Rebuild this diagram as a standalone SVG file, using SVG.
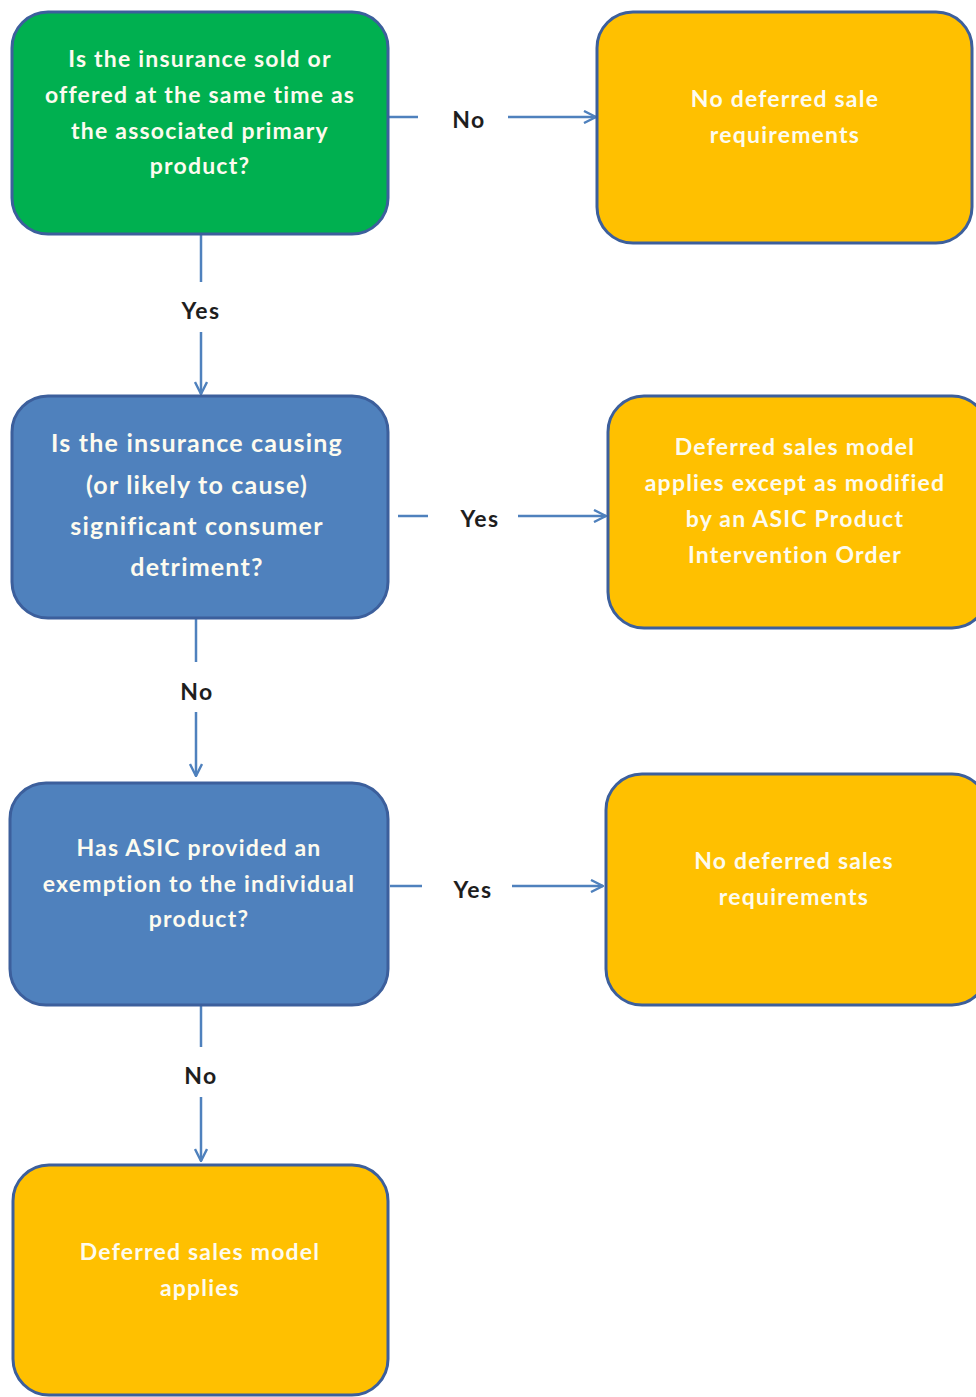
<svg xmlns="http://www.w3.org/2000/svg" width="976" height="1397" viewBox="0 0 976 1397">
<style>
.box{stroke:#3C5F9C;stroke-width:3}
.g{fill:#00B050}
.b{fill:#4F81BD}
.o{fill:#FFC000}
.t{font-family:Lato,"Liberation Sans",sans-serif;font-weight:bold;fill:#FDFBEF;text-anchor:middle;dominant-baseline:central}
.t22{font-size:23px;letter-spacing:1.2px}
.t24{font-size:25px;letter-spacing:1.2px}
.lbl{font-family:Lato,"Liberation Sans",sans-serif;font-weight:bold;font-size:23px;letter-spacing:1.5px;fill:#1E1E1E;text-anchor:middle;dominant-baseline:central}
.c{stroke:#4F81BD;stroke-width:2.5;fill:none}
</style>
<defs>
<marker id="arr" viewBox="0 0 14 14" refX="13" refY="7" markerWidth="14" markerHeight="14" markerUnits="userSpaceOnUse" orient="auto">
<path d="M1,1 L13,7 L1,13" fill="none" stroke="#4F81BD" stroke-width="2.4"/>
</marker>
</defs>
<rect width="976" height="1397" fill="#FFFFFF"/>
<g id="connectors">
<line class="c" x1="388" y1="117" x2="418" y2="117"/>
<line class="c" x1="508" y1="117" x2="596" y2="117" marker-end="url(#arr)"/>
<line class="c" x1="201" y1="235" x2="201" y2="282"/>
<line class="c" x1="201" y1="332" x2="201" y2="394" marker-end="url(#arr)"/>
<line class="c" x1="398" y1="516" x2="428" y2="516"/>
<line class="c" x1="518" y1="516" x2="606" y2="516" marker-end="url(#arr)"/>
<line class="c" x1="196" y1="618" x2="196" y2="662"/>
<line class="c" x1="196" y1="712" x2="196" y2="776" marker-end="url(#arr)"/>
<line class="c" x1="390" y1="886" x2="422" y2="886"/>
<line class="c" x1="512" y1="886" x2="603" y2="886" marker-end="url(#arr)"/>
<line class="c" x1="201" y1="1005" x2="201" y2="1047"/>
<line class="c" x1="201" y1="1097" x2="201" y2="1161" marker-end="url(#arr)"/>
<text class="lbl" x="469" y="119">No</text>
<text class="lbl" x="201" y="310">Yes</text>
<text class="lbl" x="480" y="518">Yes</text>
<text class="lbl" x="197" y="691">No</text>
<text class="lbl" x="473" y="889">Yes</text>
<text class="lbl" x="201" y="1075">No</text>
</g>
<g id="q1">
<rect class="box g" x="12" y="12" width="376" height="222" rx="36"/>
<text class="t t22" x="200" y="58">Is the insurance sold or</text>
<text class="t t22" x="200" y="94">offered at the same time as</text>
<text class="t t22" x="200" y="130">the associated primary</text>
<text class="t t22" x="200" y="165">product?</text>
</g>
<g id="r1">
<rect class="box o" x="597" y="12" width="375" height="231" rx="36"/>
<text class="t t22" x="785" y="98">No deferred sale</text>
<text class="t t22" x="785" y="134">requirements</text>
</g>
<g id="q2">
<rect class="box b" x="12" y="396" width="376" height="222" rx="36"/>
<text class="t t24" x="197" y="442">Is the insurance causing</text>
<text class="t t24" x="197" y="484">(or likely to cause)</text>
<text class="t t24" x="197" y="525">significant consumer</text>
<text class="t t24" x="197" y="566">detriment?</text>
</g>
<g id="r2">
<rect class="box o" x="608" y="396" width="380" height="232" rx="36"/>
<text class="t t22" x="795" y="446">Deferred sales model</text>
<text class="t t22" x="795" y="482">applies except as modified</text>
<text class="t t22" x="795" y="518">by an ASIC Product</text>
<text class="t t22" x="795" y="554">Intervention Order</text>
</g>
<g id="q3">
<rect class="box b" x="10" y="783" width="378" height="222" rx="36"/>
<text class="t t22" x="199" y="847">Has ASIC provided an</text>
<text class="t t22" x="199" y="883">exemption to the individual</text>
<text class="t t22" x="199" y="918">product?</text>
</g>
<g id="r3">
<rect class="box o" x="606" y="774" width="382" height="231" rx="36"/>
<text class="t t22" x="794" y="860">No deferred sales</text>
<text class="t t22" x="794" y="896">requirements</text>
</g>
<g id="r4">
<rect class="box o" x="13" y="1165" width="375" height="230" rx="36"/>
<text class="t t22" x="200" y="1251">Deferred sales model</text>
<text class="t t22" x="200" y="1287">applies</text>
</g>
</svg>
